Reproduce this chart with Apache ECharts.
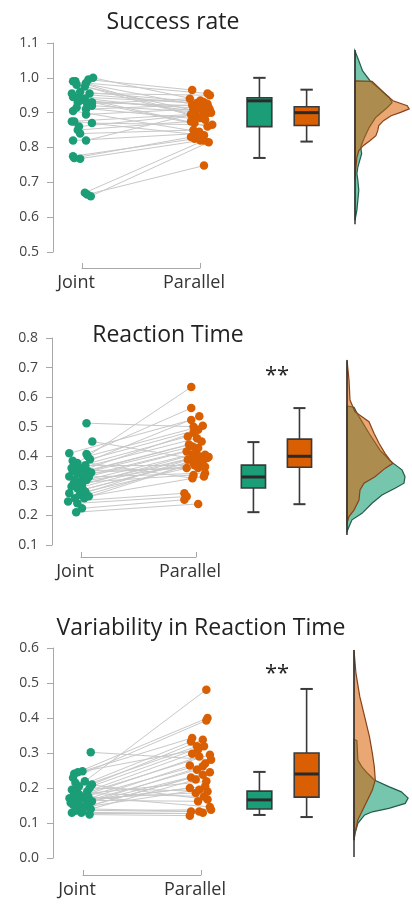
<!DOCTYPE html>
<html>
<head>
<meta charset="utf-8">
<script src="https://cdn.jsdelivr.net/npm/echarts@6/dist/echarts.min.js"></script>
<style>
  html, body { margin: 0; padding: 0; background: #fff; }
  #chart { width: 412px; height: 904px; }
</style>
</head>
<body>
<div id="chart"></div>
<script>
// groups + titles
const groups = ['Joint', 'Parallel']
const panelTitles = ['Success rate', 'Reaction Time', 'Variability in Reaction Time']

// --- Success rate: per subject, jittered x + value
const srJointX = [1.09,1.05,0.92,0.94,1.03,0.95,1.02,0.91,1.06,0.92,1.02,0.98,0.96,1.08,1.04,1.08,0.95,1.03,0.92,1.03,0.91,0.93,1.08,0.97,0.96,0.98,0.92,1.03,0.92,0.93,0.98,1.02,1.04,1.07,0.97,0.98]
const srJoint = [1.000,0.995,0.99,0.99,0.985,0.98,0.975,0.955,0.955,0.945,0.94,0.935,0.93,0.93,0.925,0.92,0.915,0.91,0.905,0.895,0.875,0.875,0.87,0.86,0.85,0.84,0.82,0.82,0.775,0.77,0.768,0.67,0.665,0.66,0.945,0.96]
const srParX = [2.00,1.93,2.07,1.97,2.06,2.03,2.00,2.06,2.08,1.96,1.95,2.01,1.97,2.06,1.91,2.09,2.04,1.93,1.99,1.94,1.92,2.03,2.10,2.05,1.92,1.94,1.97,2.08,1.95,1.92,2.00,2.03,2.03,2.07,1.97,2.03]
const srPar = [0.935,0.965,0.915,0.89,0.955,0.90,0.885,0.925,0.95,0.905,0.87,0.912,0.92,0.86,0.94,0.90,0.88,0.922,0.845,0.91,0.895,0.835,0.865,0.897,0.875,0.85,0.84,0.908,0.825,0.83,0.82,0.82,0.748,0.815,0.928,0.93]
// box: min, q1, median, q3, max
const srBox = [[0.77, 0.86, 0.934, 0.943, 1.0], [0.817, 0.863, 0.90, 0.917, 0.966]]
// densities (value, width)
const srGreenY = [1.077,1.049,1.020,0.991,0.963,0.944,0.929,0.915,0.887,0.858,0.829,0.801,0.782,0.763,0.744,0.725,0.706,0.677,0.649,0.620,0.591]
const srGreenD = [0,4,8,16,28,36,39,34,22,15,10,6,7,5,3,2,3,4,3,2,0]
const srOrangeY = [0.991,0.990,0.972,0.953,0.934,0.920,0.911,0.901,0.891,0.877,0.863,0.849,0.834,0.820,0.806,0.791,0.772,0.744,0.706]
const srOrangeD = [0,18,25,32,40,55,57,48,38,30,25,24,22,16,9,4,2,1,0]
const srRange = [0.58, 1.08]

// --- Reaction time
const rtJointX = [1.05,1.10,0.90,1.05,1.06,1.08,0.97,0.95,0.92,0.99,1.03,1.06,0.97,0.90,1.02,0.95,1.05,1.01,0.92,0.97,1.02,0.90,0.99,0.95,1.03,0.89,0.97,1.01,0.96,1.04,1.09,0.99,1.04,0.93,1.07,0.94,1.07,0.93]
const rtJoint = [0.512,0.45,0.41,0.408,0.40,0.39,0.377,0.365,0.36,0.36,0.355,0.35,0.343,0.332,0.332,0.32,0.32,0.303,0.298,0.292,0.287,0.275,0.27,0.258,0.258,0.247,0.241,0.224,0.211,0.37,0.345,0.315,0.28,0.35,0.33,0.31,0.265,0.385]
const rtParX = [1.98,2.01,1.96,1.96,2.06,2.02,1.96,2.03,1.93,2.01,1.98,2.05,1.94,1.97,2.02,1.92,2.00,1.97,2.08,2.03,2.11,2.10,1.93,2.06,1.98,1.90,1.92,1.90,2.02,2.05,2.08,1.99,1.92,2.02,2.08,1.98,2.07,1.97]
const rtPar = [0.50,0.39,0.523,0.563,0.503,0.49,0.634,0.535,0.467,0.461,0.48,0.45,0.44,0.433,0.428,0.416,0.41,0.405,0.405,0.40,0.398,0.394,0.388,0.385,0.377,0.275,0.264,0.253,0.239,0.371,0.365,0.37,0.36,0.36,0.343,0.337,0.332,0.326]
const rtBox = [[0.211, 0.293, 0.330, 0.370, 0.448], [0.238, 0.363, 0.400, 0.458, 0.563]]
const rtGreenY = [0.570,0.566,0.534,0.478,0.421,0.382,0.354,0.331,0.309,0.292,0.269,0.241,0.207,0.185,0.162,0.145]
const rtGreenD = [0,7,12,22,33,44,55,58,57,48,35,25,15,5,2,0]
const rtOrangeY = [0.726,0.658,0.590,0.551,0.534,0.517,0.478,0.444,0.410,0.387,0.376,0.359,0.331,0.309,0.286,0.252,0.218,0.196,0.173]
const rtOrangeD = [0,2,3,8,15,22,27,32,38,43,46,38,28,17,13,12,7,2,0]
const rtRange = [0.134, 0.725]

// --- Variability in reaction time
const rvJointX = [1.07,0.93,0.96,1.00,0.92,1.02,1.08,0.97,0.91,0.95,1.04,0.89,0.99,0.93,1.03,1.08,0.92,0.97,1.04,0.95,1.00,0.91,1.06,0.99,0.97,0.96,1.01,0.90,1.06,1.02,1.07,0.93,0.94,0.94,0.97,1.05]
const rvJoint = [0.302,0.241,0.245,0.248,0.229,0.219,0.21,0.205,0.195,0.19,0.19,0.171,0.176,0.167,0.167,0.162,0.152,0.152,0.148,0.138,0.133,0.129,0.124,0.129,0.182,0.16,0.145,0.158,0.2,0.17,0.14,0.185,0.135,0.215,0.165,0.175]
const rvParX = [2.09,2.06,1.98,1.93,2.05,2.05,2.02,1.92,1.97,2.03,1.93,2.08,1.99,2.04,1.91,2.02,1.97,2.08,2.02,1.92,1.96,1.92,1.91,2.02,2.05,1.91,1.99,2.04,2.06,1.96,1.99,2.03,2.09,2.06,1.98,2.08]
const rvPar = [0.281,0.40,0.31,0.343,0.393,0.481,0.338,0.333,0.319,0.319,0.298,0.295,0.29,0.27,0.264,0.262,0.252,0.245,0.238,0.23,0.224,0.133,0.121,0.129,0.219,0.20,0.195,0.205,0.19,0.186,0.133,0.176,0.138,0.167,0.162,0.146]
const rvBox = [[0.123, 0.140, 0.166, 0.191, 0.246], [0.117, 0.174, 0.240, 0.300, 0.483]]
const rvGreenY = [0.339,0.335,0.280,0.261,0.242,0.223,0.204,0.189,0.171,0.156,0.142,0.132,0.123,0.099,0.070,0.051]
const rvGreenD = [0,3,4,8,14,21,36,49,56,53,36,19,11,4,1,0]
const rvOrangeY = [0.594,0.528,0.461,0.404,0.347,0.299,0.261,0.223,0.194,0.166,0.137,0.109,0.070,0.051]
const rvOrangeD = [0,2,6,11,16,19,21,22,19,14,9,4,1,0]
const rvRange = [0.003, 0.594]

// y axis ticks per panel
const yTicks = [[0.5, 1.1], [0.1, 0.8], [0.0, 0.6]]
const sigLabels = ['', '**', '**']

const panels = [
  { jx: srJointX, j: srJoint, px: srParX, p: srPar, box: srBox, gy: srGreenY, gd: srGreenD, oy: srOrangeY, od: srOrangeD, range: srRange },
  { jx: rtJointX, j: rtJoint, px: rtParX, p: rtPar, box: rtBox, gy: rtGreenY, gd: rtGreenD, oy: rtOrangeY, od: rtOrangeD, range: rtRange },
  { jx: rvJointX, j: rvJoint, px: rvParX, p: rvPar, box: rvBox, gy: rvGreenY, gd: rvGreenD, oy: rvOrangeY, od: rvOrangeD, range: rvRange },
]

// layout (pixels)
const layout = [
  { left: 53, top: 43, width: 289, height: 209, bLeft: 82, bWidth: 118, bBottom: 268, vLeft: 355, title: [173, 22], sig: [277, 0] },
  { left: 52, top: 338, width: 282, height: 207, bLeft: 81, bWidth: 115, bBottom: 557, vLeft: 347, title: [168, 335], sig: [277, 376] },
  { left: 53, top: 648, width: 289, height: 210, bLeft: 83, bWidth: 118, bBottom: 875, vLeft: 354, title: [201, 628], sig: [277, 674] },
]
const boxX = [2.5, 2.9]

const GREEN = '#1b9e77'
const ORANGE = '#d95f02'
const AXIS = '#a8a8a8'
const FONT = '"Open Sans", Roboto, sans-serif'

const grid = [], xAxis = [], yAxis = [], series = [], graphic = []

const densitySeries = (gi, ys, ds, fill, stroke) => ({
  type: 'custom', xAxisIndex: gi, yAxisIndex: gi, silent: true, z: 2,
  data: ys.map((y, k) => [ds[k], y]),
  renderItem: (params, api) => {
    if (params.dataIndex !== 0) return null
    const pts = ys.map((y, k) => api.coord([ds[k], y]))
    pts.unshift(api.coord([0, ys[0]]))
    pts.push(api.coord([0, ys[ys.length - 1]]))
    return { type: 'polygon', shape: { points: pts }, style: { fill, stroke, lineWidth: 1.2 } }
  },
})

panels.forEach((D, i) => {
  const L = layout[i]
  const g = i * 3
  const [yMin, yMax] = yTicks[i]

  // dots + boxes grid
  grid.push({ left: L.left, top: L.top, width: L.width, height: L.height })
  xAxis.push({ type: 'value', gridIndex: g, min: 0.75, max: 3.2, show: false })
  yAxis.push({
    type: 'value', gridIndex: g, min: yMin, max: yMax, interval: 0.1,
    axisLine: { show: true, lineStyle: { color: AXIS, width: 1 } },
    axisTick: { show: true, length: 6, lineStyle: { color: AXIS } },
    axisLabel: { color: '#444', fontSize: 14, margin: 14, fontFamily: FONT, formatter: v => v.toFixed(1) },
    splitLine: { show: false },
  })

  // bracket x axis
  grid.push({ left: L.bLeft, top: L.bBottom - 10, width: L.bWidth, height: 10 })
  xAxis.push({
    type: 'value', gridIndex: g + 1, min: 1, max: 2, interval: 1,
    axisLine: { show: true, lineStyle: { color: AXIS } },
    axisTick: { show: true, inside: true, length: 5, lineStyle: { color: AXIS } },
    axisLabel: { color: '#333', fontSize: 18, margin: 6, padding: [0, 12, 0, 0], fontFamily: FONT, showMinLabel: true, showMaxLabel: true, formatter: v => groups[Math.round(v) - 1] || '' },
    splitLine: { show: false },
  })
  yAxis.push({ type: 'value', gridIndex: g + 1, min: 0, max: 1, show: false })

  // violin grid
  grid.push({ left: L.vLeft, top: L.top, width: 60, height: L.height })
  xAxis.push({ type: 'value', gridIndex: g + 2, min: 0, max: 60, show: false })
  yAxis.push({ type: 'value', gridIndex: g + 2, min: yMin, max: yMax, show: false })

  // pair lines
  series.push({
    type: 'lines', coordinateSystem: 'cartesian2d', xAxisIndex: g, yAxisIndex: g, silent: true, z: 1,
    lineStyle: { color: '#c8c8c8', width: 1, opacity: 1 },
    data: D.j.map((v, k) => ({ coords: [[D.jx[k], v], [D.px[k], D.p[k]]] })),
  })
  series.push({
    type: 'scatter', xAxisIndex: g, yAxisIndex: g, symbolSize: 8.5, z: 2, silent: true,
    itemStyle: { color: GREEN, opacity: 1 },
    data: D.j.map((v, k) => [D.jx[k], v]),
  })
  series.push({
    type: 'scatter', xAxisIndex: g, yAxisIndex: g, symbolSize: 8.5, z: 2, silent: true,
    itemStyle: { color: ORANGE, opacity: 1 },
    data: D.p.map((v, k) => [D.px[k], v]),
  })

  // boxes
  series.push({
    type: 'custom', xAxisIndex: g, yAxisIndex: g, z: 3, silent: true,
    data: D.box.map((b, k) => [boxX[k], ...b]),
    renderItem: (params, api) => {
      const x = api.value(0)
      const pMin = api.coord([x, api.value(1)])
      const pQ1 = api.coord([x, api.value(2)])
      const pMed = api.coord([x, api.value(3)])
      const pQ3 = api.coord([x, api.value(4)])
      const pMax = api.coord([x, api.value(5)])
      const hw = api.size([0.105, 0])[0]
      const cw = hw * 0.5
      const stroke = '#3a3a3a'
      const fill = params.dataIndex === 0 ? GREEN : ORANGE
      return {
        type: 'group',
        children: [
          { type: 'line', shape: { x1: pMin[0], y1: pMin[1], x2: pQ1[0], y2: pQ1[1] }, style: { stroke, lineWidth: 1.6 } },
          { type: 'line', shape: { x1: pQ3[0], y1: pQ3[1], x2: pMax[0], y2: pMax[1] }, style: { stroke, lineWidth: 1.6 } },
          { type: 'line', shape: { x1: pMin[0] - cw, y1: pMin[1], x2: pMin[0] + cw, y2: pMin[1] }, style: { stroke, lineWidth: 2 } },
          { type: 'line', shape: { x1: pMax[0] - cw, y1: pMax[1], x2: pMax[0] + cw, y2: pMax[1] }, style: { stroke, lineWidth: 2 } },
          { type: 'rect', shape: { x: pQ3[0] - hw, y: pQ3[1], width: hw * 2, height: pQ1[1] - pQ3[1] }, style: { fill, stroke, lineWidth: 1.6 } },
          { type: 'line', shape: { x1: pMed[0] - hw, y1: pMed[1], x2: pMed[0] + hw, y2: pMed[1] }, style: { stroke: '#2a2a2a', lineWidth: 3 } },
        ],
      }
    },
  })

  // half violins
  series.push(densitySeries(g + 2, D.gy, D.gd, 'rgba(27,158,119,0.6)', '#245c4a'))
  series.push(densitySeries(g + 2, D.oy, D.od, 'rgba(217,95,2,0.55)', '#86431a'))
  series.push({
    type: 'lines', coordinateSystem: 'cartesian2d', xAxisIndex: g + 2, yAxisIndex: g + 2, silent: true, z: 4,
    lineStyle: { color: '#333', width: 1.5, opacity: 1 },
    data: [{ coords: [[0, D.range[0]], [0, D.range[1]]] }],
  })

  graphic.push({
    type: 'text', x: L.title[0], y: L.title[1],
    style: { text: panelTitles[i], font: '23px ' + FONT, fill: '#222', align: 'center', verticalAlign: 'middle', textAlign: 'center', textVerticalAlign: 'middle' },
  })
  if (sigLabels[i]) {
    graphic.push({
      type: 'text', x: L.sig[0], y: L.sig[1],
      style: { text: sigLabels[i], font: '22px ' + FONT, fill: '#222', align: 'center', verticalAlign: 'middle', textAlign: 'center', textVerticalAlign: 'middle' },
    })
  }
})

const chart = echarts.init(document.getElementById('chart'), null, { renderer: 'canvas' })
chart.setOption({
  backgroundColor: '#fff',
  animation: false,
  grid, xAxis, yAxis, series, graphic,
})
</script>
</body>
</html>
